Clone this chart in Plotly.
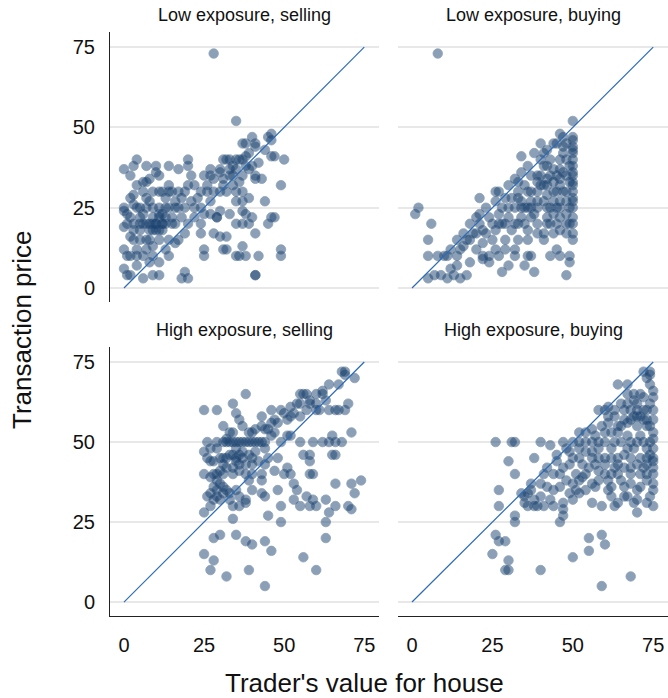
import plotly.graph_objects as go

PANEL_TITLES = ["Low exposure, selling", "Low exposure, buying",
                "High exposure, selling", "High exposure, buying"]
TICKS = [0, 25, 50, 75]
DIAG = [0, 75]

LOW_SELL = [(28,73),(35,52),(40,47),(45,47),(46,48),(46,46),(37,45),(38,45),(41,45),(41,44),(39,42),(38,41),(37,40),(36,40),(32,40),(31,40),(33,40),(34,38),(35,37),(38,38),(40,38),(46,41),(47,41),(50,40),(30,37),(30,36),(27,37),(27,35),(28,34),(31,34),(33,35),(34,35),(37,35),(41,35),(43,34),(41,34),(49,32),(25,35),(26,32),(22,32),(21,35),(20,40),(17,37),(20,32),(19,30),(17,30),(15,30),(14,30),(12,30),(11,30),(9,30),(6,30),(13,28),(14,32),(11,35),(10,36),(8,34),(7,33),(6,33),(4,32),(3,29),(0,37),(2,35),(4,40),(3,38),(7,38),(26,30),(24,30),(28,30),(30,30),(32,30),(35,30),(37,30),(35,27),(39,28),(44,27),(37,24),(38,23),(40,22),(46,22),(47,22),(45,20),(30,24),(33,23),(29,22),(27,23),(25,23),(24,25),(22,25),(19,25),(17,25),(16,25),(13,25),(11,25),(9,25),(7,25),(5,25),(0,25),(0,24),(3,26),(1,23),(2,22),(0,19),(1,20),(3,20),(5,20),(7,20),(9,20),(10,20),(12,20),(13,20),(15,20),(16,20),(18,22),(9,22),(11,23),(6,23),(11,18),(10,18),(8,18),(5,18),(3,18),(2,16),(5,15),(7,15),(11,15),(14,15),(17,15),(16,14),(19,17),(13,12),(9,13),(7,12),(4,12),(0,12),(1,10),(2,10),(4,10),(6,10),(9,10),(14,10),(11,8),(8,8),(4,7),(0,6),(1,4),(2,4),(6,3),(9,4),(11,4),(18,3),(19,5),(20,3),(24,17),(25,12),(25,10),(28,17),(30,16),(32,16),(31,12),(32,12),(35,10),(36,10),(38,10),(42,10),(37,13),(41,17),(37,20),(39,20),(35,20),(29,22),(24,20),(41,4),(41,4),(49,12),(49,10),(37,27),(10,20),(12,20),(8,20),(11,22),(13,22),(6,20),(9,18),(12,18),(8,15),(3,15),(5,22),(4,25),(15,22),(20,20),(22,22),(18,28),(23,28),(27,27),(31,32),(34,32),(36,33),(39,37),(42,39),(44,43),(33,37),(35,40),(21,27),(16,27),(8,27),(2,28),(20,38),(10,38),(14,38),(7,28),(12,23),(14,25)]

LOW_BUY = [(8,73),(50,52),(50,47),(50,46),(50,44),(50,42),(50,40),(50,38),(50,35),(50,33),(50,30),(50,27),(50,25),(50,22),(50,20),(50,17),(50,15),(49,10),(49,8),(48,4),(47,44),(48,40),(48,35),(48,30),(48,27),(48,23),(48,20),(48,17),(46,40),(46,37),(46,34),(46,32),(46,27),(46,25),(46,22),(46,18),(46,10),(45,12),(43,10),(44,17),(44,23),(44,27),(44,30),(44,33),(44,37),(42,38),(42,34),(42,32),(42,29),(42,25),(42,22),(42,20),(41,17),(41,15),(40,45),(40,40),(40,35),(40,32),(39,30),(39,27),(39,25),(39,20),(39,17),(38,23),(37,10),(36,10),(36,15),(38,5),(35,7),(34,41),(33,33),(33,28),(34,27),(34,25),(34,22),(35,20),(36,18),(33,15),(32,12),(32,10),(30,7),(28,5),(30,25),(30,22),(29,20),(31,18),(29,15),(29,12),(27,10),(26,27),(26,30),(29,28),(27,23),(27,20),(26,18),(25,15),(26,12),(24,10),(24,8),(23,17),(22,10),(22,9),(22,18),(21,20),(21,23),(21,28),(20,22),(18,20),(19,17),(17,15),(16,17),(16,13),(14,15),(15,12),(14,10),(18,8),(14,7),(17,4),(15,3),(13,4),(12,6),(11,3),(9,4),(7,4),(5,3),(5,10),(8,10),(11,10),(5,15),(6,20),(1,23),(2,25),(50,32),(50,36),(50,43),(50,28),(49,38),(49,33),(49,25),(49,20),(47,30),(47,36),(47,42),(45,35),(45,30),(45,25),(45,20),(43,35),(43,40),(43,25),(43,20),(41,27),(41,32),(41,38),(41,42),(39,35),(39,33),(37,30),(37,27),(37,25),(37,22),(37,35),(36,30),(36,25),(35,32),(35,25),(33,30),(33,20),(32,25),(32,20),(31,28),(28,25),(28,20),(27,30),(25,20),(24,22),(23,25),(20,17),(18,15),(20,12),(22,14),(12,12),(10,10),(48,45),(47,47),(45,45),(44,45),(42,43),(38,42),(36,38),(34,36),(32,34),(30,32),(46,48)]

HIGH_SELL = [(69,72),(68,72),(69,71),(72,70),(67,68),(64,68),(62,66),(62,65),(60,65),(57,65),(55,65),(63,63),(60,62),(58,62),(55,62),(52,61),(49,60),(46,60),(57,60),(60,60),(64,60),(66,60),(67,60),(69,60),(70,62),(53,59),(55,58),(52,58),(51,57),(48,56),(46,56),(44,54),(43,55),(41,54),(40,53),(39,53),(37,55),(36,57),(35,59),(34,62),(29,60),(25,60),(38,65),(31,55),(34,53),(33,53),(32,51),(46,52),(51,52),(52,52),(49,50),(44,50),(43,50),(41,50),(40,50),(38,50),(36,50),(34,50),(32,50),(31,50),(29,50),(26,50),(55,50),(59,50),(62,50),(64,50),(66,50),(68,50),(71,53),(65,52),(44,48),(41,47),(39,46),(37,45),(35,45),(34,46),(31,45),(29,48),(27,48),(25,47),(26,45),(28,44),(31,43),(35,44),(36,43),(38,43),(40,43),(40,45),(44,43),(48,45),(56,46),(58,46),(58,44),(65,46),(66,46),(25,40),(28,40),(29,40),(31,40),(34,40),(38,40),(40,40),(43,40),(50,40),(52,40),(51,42),(58,40),(59,40),(66,37),(71,37),(74,38),(72,34),(70,30),(71,29),(66,30),(64,28),(63,32),(63,25),(63,20),(59,32),(58,30),(60,30),(55,30),(53,32),(54,35),(53,37),(48,35),(40,35),(43,38),(43,34),(44,33),(49,30),(45,27),(49,25),(46,16),(44,19),(40,18),(38,19),(39,10),(44,5),(35,21),(34,26),(30,21),(28,20),(25,15),(28,13),(27,10),(32,8),(56,14),(60,10),(25,28),(27,30),(29,33),(27,34),(29,35),(31,34),(32,35),(33,34),(35,35),(34,30),(36,30),(38,31),(38,32),(30,37),(29,38),(27,39),(30,45),(32,45),(33,46),(36,46),(37,47),(32,42),(34,42),(30,41),(28,36),(31,36),(33,32),(36,33),(30,32),(28,32),(26,33),(33,50),(35,50),(37,50),(39,50),(42,50),(45,54),(47,57),(50,59),(54,62),(56,65),(58,63),(61,60),(43,58),(47,53),(35,48),(27,44),(36,41),(42,44),(45,45),(39,38),(47,41),(57,33)]

HIGH_BUY = [(74,72),(73,70),(74,71),(72,72),(67,68),(64,68),(67,65),(69,65),(71,65),(75,66),(75,64),(74,62),(70,62),(67,62),(61,61),(58,60),(60,60),(63,60),(66,60),(68,60),(70,60),(72,60),(73,60),(75,60),(71,58),(69,58),(75,57),(73,57),(61,58),(61,56),(67,56),(64,55),(70,55),(73,55),(59,55),(56,54),(54,53),(52,53),(62,53),(64,53),(67,52),(71,52),(75,53),(74,50),(72,50),(70,50),(68,50),(65,50),(63,50),(60,50),(58,50),(56,50),(54,50),(52,50),(50,50),(47,50),(43,49),(40,50),(31,50),(32,50),(26,50),(38,45),(30,44),(32,40),(27,35),(27,30),(32,27),(32,25),(26,21),(27,19),(29,19),(25,15),(30,13),(29,10),(30,10),(40,10),(50,14),(55,16),(55,20),(59,21),(60,18),(68,8),(59,5),(70,28),(75,30),(73,31),(70,32),(67,33),(66,36),(63,30),(64,31),(59,30),(56,31),(52,34),(51,35),(49,34),(47,31),(47,29),(46,25),(47,27),(44,30),(41,30),(39,30),(38,30),(36,30),(35,31),(34,34),(36,34),(38,32),(37,37),(40,37),(42,36),(44,35),(44,40),(41,40),(46,40),(47,42),(49,43),(50,45),(52,45),(53,43),(54,40),(55,42),(57,43),(58,38),(60,40),(62,40),(64,40),(68,40),(71,40),(73,40),(75,40),(75,45),(75,44),(73,45),(71,45),(68,45),(64,45),(62,45),(60,45),(58,45),(56,45),(75,37),(75,35),(73,38),(70,35),(62,36),(62,33),(61,35),(53,39),(51,40),(56,37),(52,38),(50,37),(66,42),(69,48),(67,48),(62,48),(58,48),(54,47),(73,48),(75,48),(75,42),(73,43),(70,43),(66,46),(64,43),(60,43),(58,41),(56,47),(74,55),(72,57),(70,58),(68,57),(66,57),(63,58),(65,62),(74,68),(72,64),(69,63),(60,53),(57,52),(49,47),(45,46),(42,42),(37,35),(35,33),(40,33),(43,32),(46,36),(48,38),(66,33),(68,37),(71,36),(74,33),(69,31),(65,38),(61,38),(57,36),(54,35),(50,32),(45,44),(48,48),(52,48),(65,55),(75,51),(74,46),(72,42),(68,42),(63,42)]

PANELS = [LOW_SELL, LOW_BUY, HIGH_SELL, HIGH_BUY]

W, H = 668, 698
ML, MR, MT, MB = 110, 0, 32, 82
PW, PH = W - ML - MR, H - MT - MB
XDOM = [[0, 269 / PW], [288 / PW, 1]]
YDOM = [[(616 - 302) / PH, 1], [0, (616 - 347) / PH]]
XR = [-4.36, 79.6]
YR = [-4.36, 79.7]

FONT = "Liberation Sans, Arial, sans-serif"
PT_COLOR = "#1a4270"
LINE_COLOR = "#2d6cb5"

fig = go.Figure()
layout = {}
for i, pts in enumerate(PANELS):
    r, c = divmod(i, 2)
    n = i + 1
    xa = "x" if n == 1 else f"x{n}"
    ya = "y" if n == 1 else f"y{n}"
    xs = [p[0] for p in pts]
    ys = [p[1] for p in pts]
    fig.add_trace(go.Scatter(x=xs, y=ys, mode="markers", xaxis=xa, yaxis=ya,
                             marker=dict(size=9.5, color=PT_COLOR, opacity=0.5,
                                         line=dict(width=0.8, color=PT_COLOR)),
                             showlegend=False, hoverinfo="skip"))
    fig.add_trace(go.Scatter(x=DIAG, y=DIAG, mode="lines", xaxis=xa, yaxis=ya,
                             line=dict(color=LINE_COLOR, width=1.2),
                             showlegend=False, hoverinfo="skip"))
    xkey = "xaxis" if n == 1 else f"xaxis{n}"
    ykey = "yaxis" if n == 1 else f"yaxis{n}"
    layout[xkey] = dict(domain=XDOM[c], anchor=ya, range=XR, tickvals=TICKS,
                        showgrid=False, zeroline=False,
                        showticklabels=(r == 1), showline=(r == 1),
                        linecolor="#222222", linewidth=1,
                        ticks="outside" if r == 1 else "", ticklen=11,
                        tickcolor="rgba(0,0,0,0)",
                        tickfont=dict(family=FONT, size=20, color="#111111"))
    layout[ykey] = dict(domain=YDOM[r], anchor=xa, range=YR, tickvals=TICKS,
                        showgrid=True, gridcolor="#e8e8e8", gridwidth=1.5,
                        zeroline=False,
                        showticklabels=(c == 0), showline=(c == 0),
                        linecolor="#222222", linewidth=1,
                        ticks="outside" if c == 0 else "", ticklen=10,
                        tickcolor="rgba(0,0,0,0)",
                        tickfont=dict(family=FONT, size=20, color="#111111"))

annotations = []
for i, t in enumerate(PANEL_TITLES):
    r, c = divmod(i, 2)
    xc = (XDOM[c][0] + XDOM[c][1]) / 2
    yc = YDOM[r][1]
    annotations.append(dict(text=t, x=xc, y=yc, xref="paper", yref="paper",
                            xanchor="center", yanchor="bottom", yshift=5,
                            showarrow=False,
                            font=dict(family=FONT, size=18, color="#111111")))
annotations.append(dict(text="Transaction price", x=(22 - ML) / PW, y=(616 - 330) / PH,
                        xref="paper", yref="paper", textangle=-90,
                        xanchor="center", yanchor="middle", showarrow=False,
                        font=dict(family=FONT, size=26, color="#111111")))
annotations.append(dict(text="Trader's value for house", x=(364 - ML) / PW, y=(616 - 683) / PH,
                        xref="paper", yref="paper",
                        xanchor="center", yanchor="middle", showarrow=False,
                        font=dict(family=FONT, size=26, color="#111111")))

fig.update_layout(width=W, height=H, margin=dict(l=ML, r=MR, t=MT, b=MB),
                  paper_bgcolor="white", plot_bgcolor="white",
                  annotations=annotations, **layout)
fig.write_html("out.html", config={"displayModeBar": False},
               post_script="document.body.style.margin='0';document.body.style.overflow='hidden';")
